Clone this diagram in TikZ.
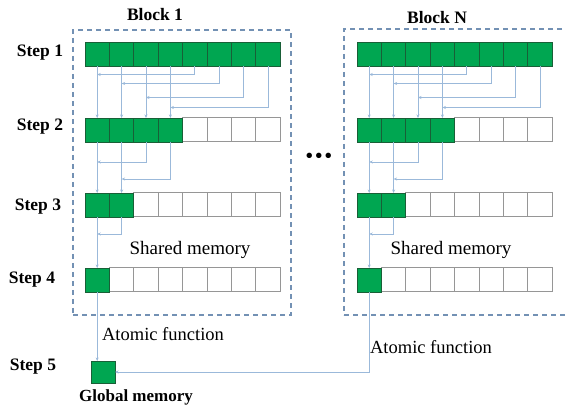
\documentclass[tikz,border=0pt]{standalone}
\usepackage{fontspec}
\setmainfont{Liberation Serif}
\usetikzlibrary{arrows.meta,calc}
\definecolor{cgreen}{RGB}{0,166,81}
\definecolor{cdark}{RGB}{25,95,55}
\definecolor{cgray}{RGB}{150,150,150}
\definecolor{cline}{RGB}{155,185,218}
\definecolor{cdash}{RGB}{115,145,180}
\begin{document}
\begin{tikzpicture}[x=1pt,y=-1pt,
  full/.style={draw=cdark, fill=cgreen, line width=0.8pt, minimum width=24.4pt, minimum height=24pt, inner sep=0pt, outer sep=0pt},
  emptycell/.style={draw=cgray, fill=white, line width=1pt, minimum width=24.4pt, minimum height=24pt, inner sep=0pt, outer sep=0pt},
  conn/.style={draw=cline, line width=0.8pt, -{Stealth[length=3.5pt,width=3pt]}},
  blockbox/.style={draw=cdash, line width=1.6pt, dash pattern=on 5pt off 4pt, inner sep=0pt},
  boldlbl/.style={font=\bfseries\fontsize{17.5}{20}\selectfont, inner sep=0pt},
  plainlbl/.style={font=\fontsize{19}{22}\selectfont, inner sep=0pt}
]
\useasboundingbox (0,0) rectangle (566,406);
\clip (0,0) rectangle (566,406);

% block boxes
\node[blockbox, minimum width=218pt, minimum height=285pt] (box1) at (182,172.5) {};
\node[blockbox, minimum width=236pt, minimum height=286pt] (boxN) at (462,172) {};

% cells
\foreach \bk/\x in {1/85, N/357} {
  \foreach \rw/\y/\n in {1/54.5/8, 2/130/4, 3/205/2, 4/280/1} {
    \foreach \cl in {7,6,...,0} {
      \ifnum\cl<\n \def\st{full}\else\def\st{emptycell}\fi
      \node[\st] (b\bk-r\rw-c\cl) at ({\x+12.2+24.4*\cl},\y) {};
    }
  }
}

% connectors inside blocks
\foreach \bk in {1,N} {
  \draw[conn] (b\bk-r1-c4.south) |- ([yshift=-8pt]b\bk-r1-c0.south);
  \draw[conn] (b\bk-r1-c5.south) |- ([yshift=-17pt]b\bk-r1-c1.south);
  \draw[conn] (b\bk-r1-c6.south) |- ([yshift=-31pt]b\bk-r1-c2.south);
  \draw[conn] (b\bk-r1-c7.south) |- ([yshift=-41pt]b\bk-r1-c3.south);
  \foreach \cl in {0,1,2,3} {
    \draw[conn] (b\bk-r1-c\cl.south) -- (b\bk-r2-c\cl.north);
  }
  \draw[conn] (b\bk-r2-c2.south) |- ([yshift=-20pt]b\bk-r2-c0.south);
  \draw[conn] (b\bk-r2-c3.south) |- ([yshift=-37pt]b\bk-r2-c1.south);
  \foreach \cl in {0,1} {
    \draw[conn] (b\bk-r2-c\cl.south) -- (b\bk-r3-c\cl.north);
  }
  \draw[conn] (b\bk-r3-c1.south) |- ([yshift=-17pt]b\bk-r3-c0.south);
  \draw[conn] (b\bk-r3-c0.south) -- (b\bk-r4-c0.north);
}

% global memory
\node[full, minimum width=24pt, minimum height=22pt] (gm) at (103,372) {};
\draw[conn] (b1-r4-c0.south) -- (b1-r4-c0.south |- gm.north);
\draw[conn] (bN-r4-c0.south) |- (gm.east);

% labels
\node[boldlbl] (blk1) at (155,15) {Block 1};
\node[boldlbl] (blkN) at (437,18) {Block N};
\node[boldlbl] (s1) at (40,53) {Step 1};
\node[boldlbl] (s2) at (40,127) {Step 2};
\node[boldlbl] (s3) at (38,207) {Step 3};
\node[boldlbl] (s4) at (32,280) {Step 4};
\node[boldlbl] (s5) at (33,367) {Step 5};
\node[plainlbl] (sm1) at (190,250) {Shared memory};
\node[plainlbl] (smN) at (451,250) {Shared memory};
\node[plainlbl, font=\fontsize{18.5}{22}\selectfont] (af1) at (163,334) {Atomic function};
\node[plainlbl, font=\fontsize{18.5}{22}\selectfont] (afN) at (431,347) {Atomic function};
\node[boldlbl, font=\bfseries\fontsize{17}{20}\selectfont] (gml) at (136,397) {Global memory};
\node[inner sep=0pt, font=\bfseries\fontsize{20}{24}\selectfont] (dots) at (319,158) {\textbullet\kern2.5pt\textbullet\kern2.5pt\textbullet};
\end{tikzpicture}
\end{document}
